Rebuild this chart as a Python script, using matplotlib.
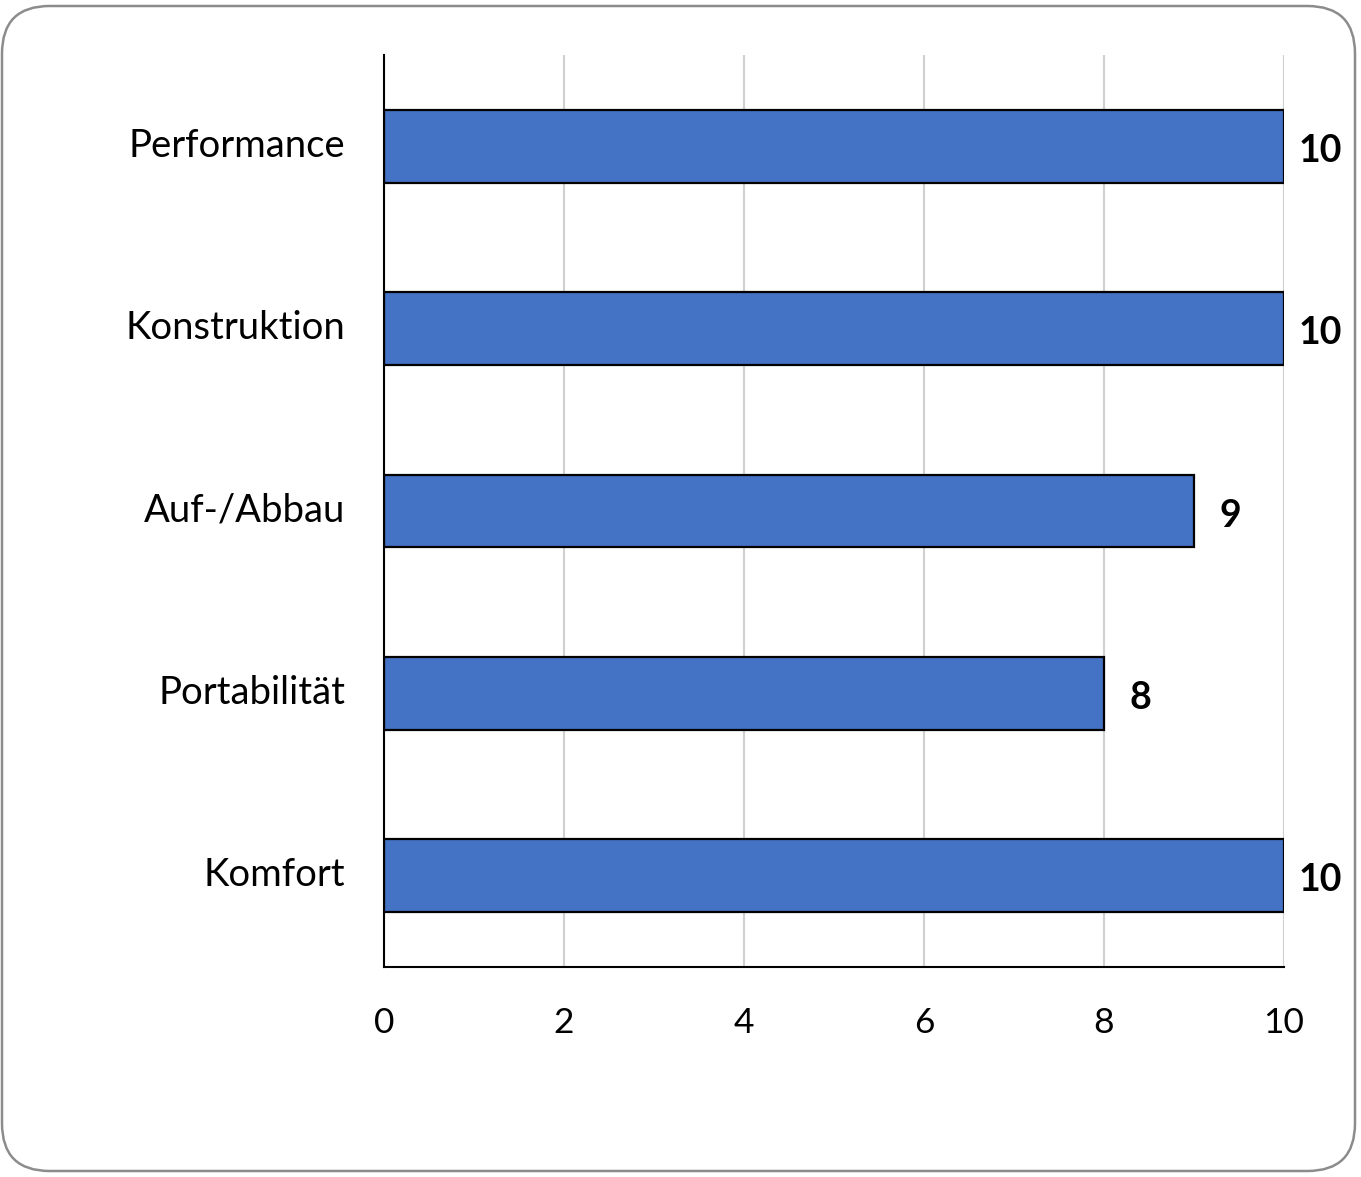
import matplotlib.pyplot as plt
from matplotlib.patches import FancyBboxPatch
from matplotlib.transforms import ScaledTranslation

categories = ["Performance", "Konstruktion", "Auf-/Abbau", "Portabilität", "Komfort"]
values = [10, 10, 9, 8, 10]
xticks = [0, 2, 4, 6, 8, 10]

plt.rcParams['font.family'] = ['Lato', 'DejaVu Sans']

fig = plt.figure(figsize=(13.61, 11.77), dpi=100)
border = FancyBboxPatch((2/1361, 6/1177), 1353/1361, 1165/1177,
                        boxstyle="round,pad=0,rounding_size=0.035",
                        transform=fig.transFigure, facecolor='white',
                        edgecolor='#8c8c8c', linewidth=1.8,
                        mutation_aspect=1361/1177, zorder=-10)
fig.patches.append(border)

ax = fig.add_axes([384/1361, 1 - 967/1177, 900/1361, 912/1177])
ax.set_zorder(5)
ax.set_facecolor('none')
y = list(range(len(categories)))
bars = ax.barh(y, values, height=0.4, color='#4472C4', edgecolor='black', linewidth=1.6, zorder=3)
ax.set_ylim(len(categories) - 0.5, -0.5)
ax.set_xlim(0, 10)
ax.set_xticks(xticks)
ax.set_xticklabels([str(t) for t in xticks], fontsize=25.5)
ax.set_yticks(y)
ax.set_yticklabels(categories, fontsize=27.5)
ax.tick_params(axis='both', length=0)
ax.tick_params(axis='y', pad=28)
ax.tick_params(axis='x', pad=29)
shift = ScaledTranslation(0, 3/72, fig.dpi_scale_trans)
for lab in ax.get_yticklabels():
    lab.set_transform(lab.get_transform() + shift)
ax.xaxis.grid(True, color='#d0d0d0', linewidth=1.5, zorder=0)
ax.set_axisbelow(True)
for s in ['top', 'right']:
    ax.spines[s].set_visible(False)
for s in ['left', 'bottom']:
    ax.spines[s].set_color('black')
    ax.spines[s].set_linewidth(1.5)
    ax.spines[s].set_zorder(4)

for yi, v in zip(y, values):
    ax.text(v + 0.4, yi + 0.025, str(v), va='center', ha='center', fontsize=27, fontweight='bold', clip_on=False)

fig.savefig('out.png', dpi=100)
